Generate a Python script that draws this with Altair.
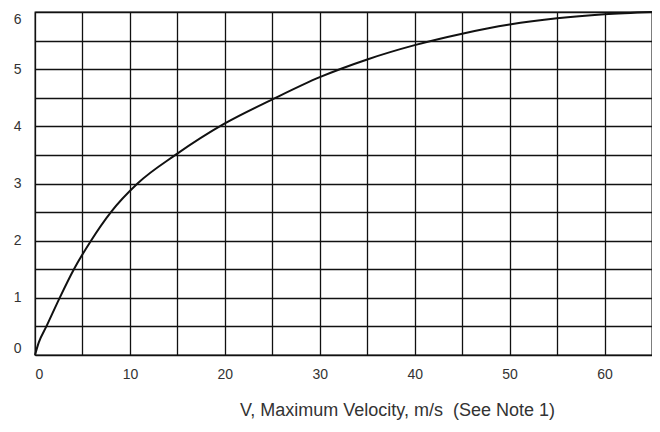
import altair as alt
import pandas as pd

velocity = [0, 0.4, 1.2, 2.6, 4.1, 5.9, 8.0, 10.8, 14.8, 20, 25, 30, 35, 40, 45, 50, 55, 60, 65]
value = [0, 0.22, 0.5, 1.0, 1.5, 2.0, 2.5, 3.0, 3.5, 4.05, 4.47, 4.86, 5.17, 5.42, 5.62, 5.78, 5.89, 5.96, 6.0]

x_grid = [0, 5, 10, 15, 20, 25, 30, 35, 40, 45, 50, 55, 60, 65]
y_grid = [0, 0.5, 1, 1.5, 2, 2.5, 3, 3.5, 4, 4.5, 5, 5.5, 6]

df = pd.DataFrame({"V": velocity, "Y": value})

chart = alt.Chart(df).mark_line(color="#111111", strokeWidth=2, interpolate="monotone").encode(
    x=alt.X("V:Q",
            scale=alt.Scale(domain=[0, 65], nice=False, zero=False),
            axis=alt.Axis(values=x_grid, grid=True, gridColor="#111111", gridWidth=1.3,
                          gridOpacity=1, domain=False, ticks=False,
                          labelExpr="datum.value % 10 == 0 ? format(datum.value, 'd') : ''",
                          labelFontSize=14, labelColor="#333333", labelPadding=12,
                          labelFont="Liberation Sans",
                          title="V, Maximum Velocity, m/s \u00a0(See Note 1)",
                          titleFontSize=18, titleFontWeight="normal", titleColor="#333333",
                          titleFont="Liberation Sans", titlePadding=20,
                          titleX=362, titleAlign="center", titleAnchor="start")),
    y=alt.Y("Y:Q",
            scale=alt.Scale(domain=[0, 6], nice=False),
            axis=alt.Axis(values=y_grid, grid=True, gridColor="#111111", gridWidth=1.3,
                          gridOpacity=1, domain=False, ticks=False, labelFlush=True,
                          labelExpr="datum.value % 1 == 0 ? format(datum.value, 'd') : ''",
                          labelFontSize=14, labelColor="#333333", labelPadding=14,
                          labelFont="Liberation Sans", title=None)),
).properties(
    width=617,
    height=343,
    autosize=alt.AutoSizeParams(type="none"),
    padding={"left": 27, "top": 4, "right": 0, "bottom": 70},
).configure_view(stroke="#111111", strokeWidth=1.3)

chart.save("out.html", embed_options={"renderer": "svg", "actions": False})
